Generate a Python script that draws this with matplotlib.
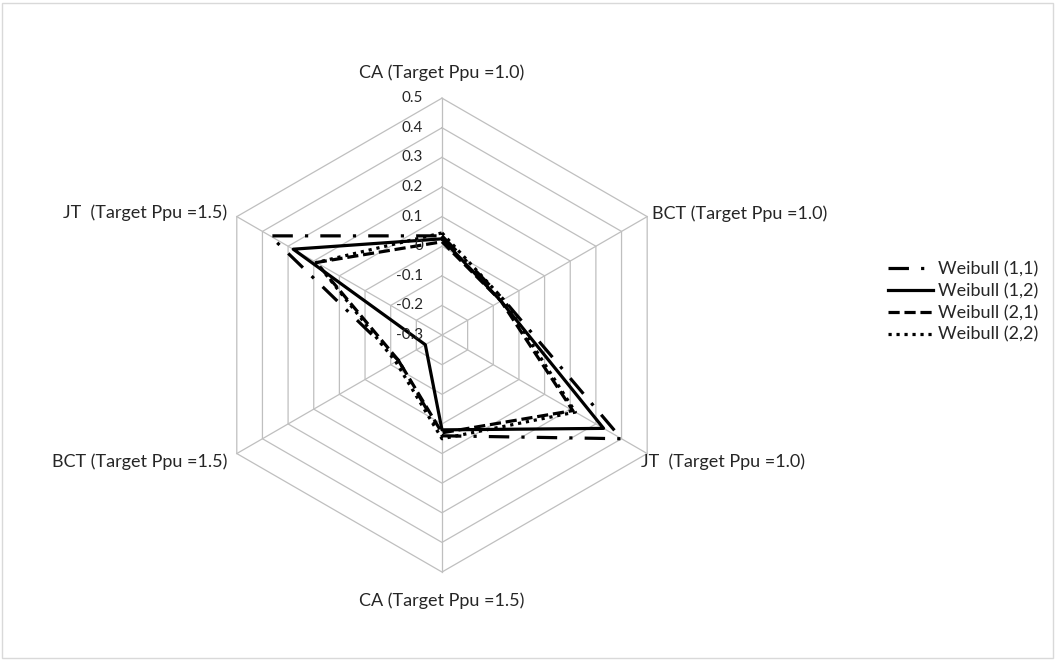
import numpy as np
import matplotlib
matplotlib.use('Agg')
import matplotlib.pyplot as plt
from matplotlib.lines import Line2D
from matplotlib.patches import Rectangle

plt.rcParams['font.family'] = ['Lato', 'DejaVu Sans']

# Radar categories (clockwise from the top)
categories = ['CA (Target Ppu =1.0)', 'BCT (Target Ppu =1.0)', 'JT  (Target Ppu =1.0)',
              'CA (Target Ppu =1.5)', 'BCT (Target Ppu =1.5)', 'JT  (Target Ppu =1.5)']

# values
w11 = [0.035, -0.06, 0.40, 0.04, -0.13, 0.37]
w12 = [0.025, -0.07, 0.33, 0.02, -0.235, 0.28]
w21 = [0.015, -0.07, 0.21, 0.03, -0.13, 0.19]
w22 = [0.045, -0.06, 0.22, 0.05, -0.12, 0.19]
series_names = ['Weibull (1,1)', 'Weibull (1,2)', 'Weibull (2,1)', 'Weibull (2,2)']

ticks = [-0.3, -0.2, -0.1, 0, 0.1, 0.2, 0.3, 0.4, 0.5]
tick_labels = ['-0.3', '-0.2', '-0.1', '0', '0.1', '0.2', '0.3', '0.4', '0.5']

grid_c = '#BFBFBF'
txt_c = '#262626'
fs = 13
fs_tick = 11

fig = plt.figure(figsize=(10.56, 6.6), dpi=100)
ax = fig.add_axes([0.1941, 0.1333, 0.4489, 0.718], projection='polar')
ax.set_theta_offset(np.pi / 2)
ax.set_theta_direction(-1)
ax.set_ylim(-0.3, 0.5)
ax.grid(False)
ax.spines['polar'].set_visible(False)
ax.set_xticks([])
ax.set_yticks([])
ax.patch.set_alpha(0)

n = len(categories)
theta = np.arange(n) * 2 * np.pi / n
theta_c = np.append(theta, theta[0])

# hexagonal grid
for v in ticks[1:]:
    ax.plot(theta_c, [v] * (n + 1), color=grid_c, lw=0.9, clip_on=False, zorder=1)
for th in theta:
    ax.plot([th, th], [ticks[0], ticks[-1]], color=grid_c, lw=0.9, clip_on=False, zorder=1)

styles = [
    dict(dashes=(6.4, 3.8, 1, 3.8)),
    dict(linestyle='-'),
    dict(dashes=(3.5, 1.5)),
    dict(dashes=(1, 1.5)),
]
handles = []
for vals, name, st in zip([w11, w12, w21, w22], series_names, styles):
    ax.plot(theta_c, vals + vals[:1], color='black', lw=2.3, clip_on=False,
            zorder=3, **st)
    handles.append(Line2D([], [], color='black', lw=2.3, **st))

# axis value labels along the top spoke
for v, lab in zip(ticks, tick_labels):
    ax.annotate(lab, xy=(0, v), xytext=(-19, 0), textcoords='offset pixels',
                ha='right', va='center', fontsize=fs_tick, color=txt_c)

# category labels
offsets = [((0, 25), 'center'), ((5, 3), 'left'), ((-6, -8), 'left'),
           ((0, -29), 'center'), ((-9, -8), 'right'), ((-10, 4), 'right')]
for th, lab, (off, ha) in zip(theta, categories, offsets):
    ax.annotate(lab, xy=(th, 0.5), xytext=off, textcoords='offset pixels',
                ha=ha, va='center', fontsize=fs, color=txt_c)

fig.legend(handles, series_names, loc='center left',
           bbox_to_anchor=(888 / 1056, 1 - 302 / 660), frameon=False,
           fontsize=fs, handlelength=2.5, handletextpad=0.28,
           borderpad=0, borderaxespad=0, labelspacing=0.32, labelcolor=txt_c)

fig.patches.append(Rectangle((2 / 1056, 2 / 660), 1051 / 1056, 655 / 660,
                             transform=fig.transFigure, fill=False,
                             edgecolor='#D9D9D9', lw=1))

fig.savefig('out.png', dpi=100)
